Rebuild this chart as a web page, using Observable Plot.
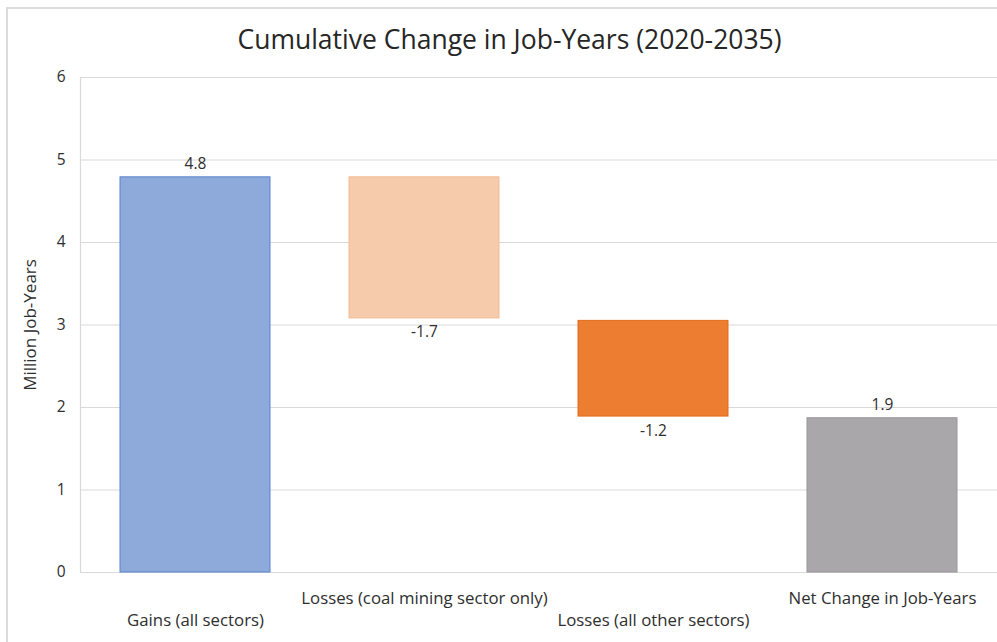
<!DOCTYPE html>
<html>
<head>
<meta charset="utf-8">
<script src="https://cdn.jsdelivr.net/npm/d3@7"></script>
<script src="https://cdn.jsdelivr.net/npm/@observablehq/plot@0.6"></script>
<style>
  html, body { margin: 0; padding: 0; background: #fff; }
  #wrap { position: relative; width: 997px; height: 642px; overflow: hidden; background: #fff; font-family: "Open Sans", sans-serif; }
  #frame { position: absolute; left: 6px; top: 7px; width: 1200px; height: 1200px; border-top: 2px solid #dcdcdc; border-left: 2px solid #dcdcdc; box-sizing: border-box; }
  #title { position: absolute; left: 0; width: 997px; top: 22px; text-align: center; font-size: 26.5px; line-height: 34px; color: #262626; padding-left: 22px; box-sizing: border-box; }
  #chart { position: absolute; left: 0; top: 60px; }
</style>
</head>
<body>
<div id="wrap">
  <div id="frame"></div>
  <div id="title">Cumulative Change in Job-Years (2020-2035)</div>
  <div id="chart"></div>
</div>
<script>
// Data
const categories = ["Gains (all sectors)", "Losses (coal mining sector only)", "Losses (all other sectors)", "Net Change in Job-Years"];
const changeLabels = [4.8, -1.7, -1.2, 1.9];
const barBase = [0, 4.79, 3.05, 0];
const barTop = [4.79, 3.08, 1.89, 1.87];
const yTicks = [0, 1, 2, 3, 4, 5, 6];

// Styles (kept apart from data)
const fills = ["#8eaadb", "#f5cbab", "#ed7d31", "#aaa7aa"];
const strokes = ["#5b83cc", "#f3b995", "#e36a1a", "#9a979a"];

const rows = categories.map((c, i) => ({
  cat: c,
  lo: Math.min(barBase[i], barTop[i]),
  hi: Math.max(barBase[i], barTop[i]),
  label: changeLabels[i],
  fill: fills[i],
  stroke: strokes[i]
}));

const chart = Plot.plot({
  width: 997,
  height: 582,
  marginLeft: 80,
  marginRight: 0,
  marginTop: 17,
  marginBottom: 70,
  style: { fontFamily: "'Open Sans', sans-serif", fontSize: "15px", color: "#2e2e2e", background: "transparent" },
  x: { domain: categories, paddingInner: 0.345, paddingOuter: 0.1725, axis: null },
  y: { domain: [0, 6], axis: null },
  color: { type: "identity" },
  marks: [
    Plot.ruleY(yTicks, { stroke: "#d9d9d9", strokeWidth: 1.2 }),
    Plot.frame({ anchor: "left", stroke: "#d9d9d9", strokeWidth: 1.2 }),
    Plot.barY(rows, { x: "cat", y1: "lo", y2: "hi", fill: "fill", stroke: "stroke", strokeWidth: 1 }),
    Plot.text(rows.filter(d => d.label > 0), { x: "cat", y: "hi", text: d => d.label.toFixed(1), dy: -13, fontSize: 15.5 }),
    Plot.text(rows.filter(d => d.label < 0), { x: "cat", y: "lo", text: d => d.label.toFixed(1), dy: 14, fontSize: 15.5 }),
    Plot.axisY({ ticks: yTicks, tickFormat: d3.format("d"), tickSize: 0, tickPadding: 15, fontSize: 15.5, label: null }),
    Plot.axisY({ ticks: [], tickSize: 0, fontSize: 17, label: "Million Job-Years", labelAnchor: "center", labelOffset: 57, labelArrow: "none" }),
    Plot.axisX(categories.filter((d, i) => i % 2 === 1), { tickSize: 0, tickPadding: 20, fontSize: 16.8, label: null }),
    Plot.axisX(categories.filter((d, i) => i % 2 === 0), { tickSize: 0, tickPadding: 42, fontSize: 16.8, label: null })
  ]
});
document.getElementById("chart").appendChild(chart);
</script>
</body>
</html>
